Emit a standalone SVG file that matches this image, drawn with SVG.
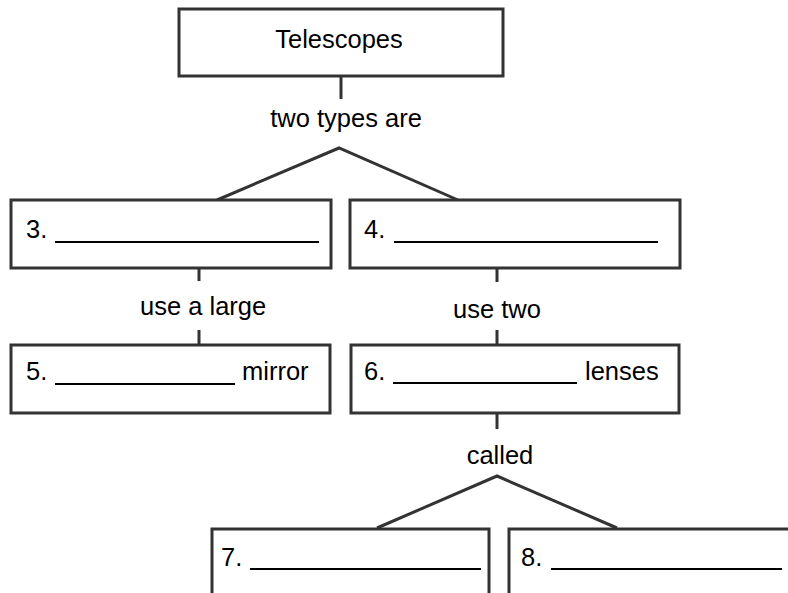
<svg xmlns="http://www.w3.org/2000/svg" width="788" height="593" viewBox="0 0 788 593">
<style>
.box{fill:#fff;stroke:#333;stroke-width:3}
.ln{fill:none;stroke:#333;stroke-width:3}
.ul{stroke:#000;stroke-width:2.2}
text{font-family:"Liberation Sans",Arial,sans-serif;font-size:25.5px;fill:#000}
.c{text-anchor:middle}
</style>
<rect width="788" height="593" fill="#fff"/>
<g id="connectors">
<line class="ln" x1="341" y1="77" x2="341" y2="99"/>
<text class="c" x="346" y="127">two types are</text>
<polyline class="ln" points="217,200 339,148 458,200"/>
<line class="ln" x1="199" y1="268" x2="199" y2="281"/>
<text x="140" y="315">use a large</text>
<line class="ln" x1="199" y1="330" x2="199" y2="345"/>
<line class="ln" x1="497" y1="268" x2="497" y2="282"/>
<text x="453" y="318">use two</text>
<line class="ln" x1="497" y1="330" x2="497" y2="345"/>
<line class="ln" x1="497" y1="413" x2="497" y2="429"/>
<text class="c" x="500" y="464">called</text>
<polyline class="ln" points="377,528 497,476 617,528"/>
</g>
<g id="telescopes">
<rect class="box" x="179" y="9" width="324" height="67"/>
<text class="c" x="339" y="48">Telescopes</text>
</g>
<g id="n3">
<rect class="box" x="11" y="200" width="320" height="68"/>
<text x="26" y="238">3.</text>
<line class="ul" x1="55" y1="242" x2="319" y2="242"/>
</g>
<g id="n4">
<rect class="box" x="350" y="200" width="330" height="68"/>
<text x="364" y="238">4.</text>
<line class="ul" x1="394" y1="242" x2="658" y2="242"/>
</g>
<g id="n5">
<rect class="box" x="11" y="345" width="319" height="68"/>
<text x="26" y="380">5.</text>
<line class="ul" x1="55" y1="384" x2="235" y2="384"/>
<text x="242" y="380">mirror</text>
</g>
<g id="n6">
<rect class="box" x="351" y="345" width="328" height="68"/>
<text x="364" y="380">6.</text>
<line class="ul" x1="393" y1="383" x2="577" y2="383"/>
<text x="585" y="380">lenses</text>
</g>
<g id="n7">
<rect class="box" x="212" y="529" width="277" height="80"/>
<text x="221" y="566">7.</text>
<line class="ul" x1="250" y1="569" x2="481" y2="569"/>
</g>
<g id="n8">
<rect class="box" x="509" y="529" width="300" height="80"/>
<text x="521" y="566">8.</text>
<line class="ul" x1="551" y1="569" x2="782" y2="569"/>
</g>
</svg>
